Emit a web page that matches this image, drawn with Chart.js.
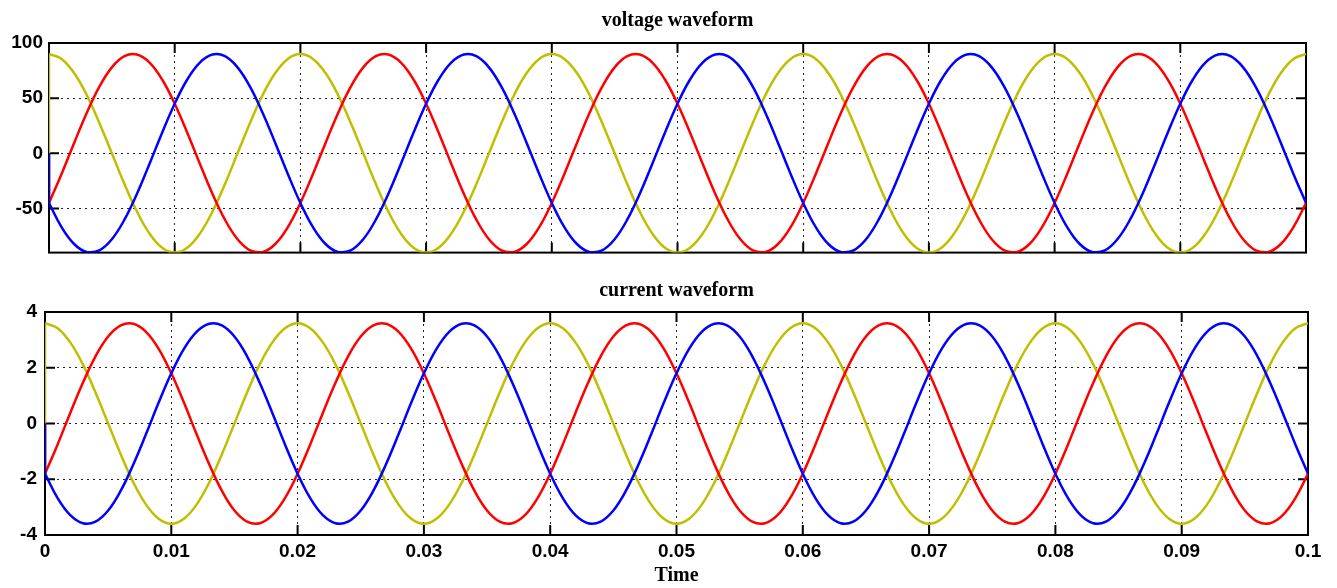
<!DOCTYPE html>
<html>
<head>
<meta charset="utf-8">
<script src="https://cdn.jsdelivr.net/npm/chart.js@4.4.1/dist/chart.umd.min.js"></script>
<style>
  body { margin: 0; background: #fff; }
  #voltChart { position: absolute; left: 0; top: 0; }
  #curChart { position: absolute; left: 0; top: 270px; }
</style>
</head>
<body>
<canvas id="voltChart" width="1337" height="270"></canvas>
<canvas id="curChart" width="1337" height="318"></canvas>
<script>
// time in seconds, the first point is the simulation start at 0
const time = [0,
  0, 0.001, 0.002, 0.003, 0.004, 0.005, 0.006, 0.007, 0.008, 0.009, 0.01, 0.011, 0.012, 0.013, 0.014, 0.015, 0.016, 0.017, 0.018, 0.019,
  0.02, 0.021, 0.022, 0.023, 0.024, 0.025, 0.026, 0.027, 0.028, 0.029, 0.03, 0.031, 0.032, 0.033, 0.034, 0.035, 0.036, 0.037, 0.038, 0.039,
  0.04, 0.041, 0.042, 0.043, 0.044, 0.045, 0.046, 0.047, 0.048, 0.049, 0.05, 0.051, 0.052, 0.053, 0.054, 0.055, 0.056, 0.057, 0.058, 0.059,
  0.06, 0.061, 0.062, 0.063, 0.064, 0.065, 0.066, 0.067, 0.068, 0.069, 0.07, 0.071, 0.072, 0.073, 0.074, 0.075, 0.076, 0.077, 0.078, 0.079,
  0.08, 0.081, 0.082, 0.083, 0.084, 0.085, 0.086, 0.087, 0.088, 0.089, 0.09, 0.091, 0.092, 0.093, 0.094, 0.095, 0.096, 0.097, 0.098, 0.099,
  0.1];

const voltYellow = [0,
  90, 85.6, 72.8, 52.9, 27.8, 0, -27.8, -52.9, -72.8, -85.6, -90, -85.6, -72.8, -52.9, -27.8, 0, 27.8, 52.9, 72.8, 85.6,
  90, 85.6, 72.8, 52.9, 27.8, 0, -27.8, -52.9, -72.8, -85.6, -90, -85.6, -72.8, -52.9, -27.8, 0, 27.8, 52.9, 72.8, 85.6,
  90, 85.6, 72.8, 52.9, 27.8, 0, -27.8, -52.9, -72.8, -85.6, -90, -85.6, -72.8, -52.9, -27.8, 0, 27.8, 52.9, 72.8, 85.6,
  90, 85.6, 72.8, 52.9, 27.8, 0, -27.8, -52.9, -72.8, -85.6, -90, -85.6, -72.8, -52.9, -27.8, 0, 27.8, 52.9, 72.8, 85.6,
  90, 85.6, 72.8, 52.9, 27.8, 0, -27.8, -52.9, -72.8, -85.6, -90, -85.6, -72.8, -52.9, -27.8, 0, 27.8, 52.9, 72.8, 85.6,
  90];
const voltRed = [0,
  -45, -18.7, 9.4, 36.6, 60.2, 77.9, 88, 89.5, 82.2, 66.9, 45, 18.7, -9.4, -36.6, -60.2, -77.9, -88, -89.5, -82.2, -66.9,
  -45, -18.7, 9.4, 36.6, 60.2, 77.9, 88, 89.5, 82.2, 66.9, 45, 18.7, -9.4, -36.6, -60.2, -77.9, -88, -89.5, -82.2, -66.9,
  -45, -18.7, 9.4, 36.6, 60.2, 77.9, 88, 89.5, 82.2, 66.9, 45, 18.7, -9.4, -36.6, -60.2, -77.9, -88, -89.5, -82.2, -66.9,
  -45, -18.7, 9.4, 36.6, 60.2, 77.9, 88, 89.5, 82.2, 66.9, 45, 18.7, -9.4, -36.6, -60.2, -77.9, -88, -89.5, -82.2, -66.9,
  -45, -18.7, 9.4, 36.6, 60.2, 77.9, 88, 89.5, 82.2, 66.9, 45, 18.7, -9.4, -36.6, -60.2, -77.9, -88, -89.5, -82.2, -66.9,
  -45];
const voltBlue = [0,
  -45, -66.9, -82.2, -89.5, -88, -77.9, -60.2, -36.6, -9.4, 18.7, 45, 66.9, 82.2, 89.5, 88, 77.9, 60.2, 36.6, 9.4, -18.7,
  -45, -66.9, -82.2, -89.5, -88, -77.9, -60.2, -36.6, -9.4, 18.7, 45, 66.9, 82.2, 89.5, 88, 77.9, 60.2, 36.6, 9.4, -18.7,
  -45, -66.9, -82.2, -89.5, -88, -77.9, -60.2, -36.6, -9.4, 18.7, 45, 66.9, 82.2, 89.5, 88, 77.9, 60.2, 36.6, 9.4, -18.7,
  -45, -66.9, -82.2, -89.5, -88, -77.9, -60.2, -36.6, -9.4, 18.7, 45, 66.9, 82.2, 89.5, 88, 77.9, 60.2, 36.6, 9.4, -18.7,
  -45, -66.9, -82.2, -89.5, -88, -77.9, -60.2, -36.6, -9.4, 18.7, 45, 66.9, 82.2, 89.5, 88, 77.9, 60.2, 36.6, 9.4, -18.7,
  -45];

const curYellow = [0,
  3.6, 3.42, 2.91, 2.12, 1.11, 0, -1.11, -2.12, -2.91, -3.42, -3.6, -3.42, -2.91, -2.12, -1.11, 0, 1.11, 2.12, 2.91, 3.42,
  3.6, 3.42, 2.91, 2.12, 1.11, 0, -1.11, -2.12, -2.91, -3.42, -3.6, -3.42, -2.91, -2.12, -1.11, 0, 1.11, 2.12, 2.91, 3.42,
  3.6, 3.42, 2.91, 2.12, 1.11, 0, -1.11, -2.12, -2.91, -3.42, -3.6, -3.42, -2.91, -2.12, -1.11, 0, 1.11, 2.12, 2.91, 3.42,
  3.6, 3.42, 2.91, 2.12, 1.11, 0, -1.11, -2.12, -2.91, -3.42, -3.6, -3.42, -2.91, -2.12, -1.11, 0, 1.11, 2.12, 2.91, 3.42,
  3.6, 3.42, 2.91, 2.12, 1.11, 0, -1.11, -2.12, -2.91, -3.42, -3.6, -3.42, -2.91, -2.12, -1.11, 0, 1.11, 2.12, 2.91, 3.42,
  3.6];
const curRed = [0,
  -1.8, -0.75, 0.38, 1.46, 2.41, 3.12, 3.52, 3.58, 3.29, 2.68, 1.8, 0.75, -0.38, -1.46, -2.41, -3.12, -3.52, -3.58, -3.29, -2.68,
  -1.8, -0.75, 0.38, 1.46, 2.41, 3.12, 3.52, 3.58, 3.29, 2.68, 1.8, 0.75, -0.38, -1.46, -2.41, -3.12, -3.52, -3.58, -3.29, -2.68,
  -1.8, -0.75, 0.38, 1.46, 2.41, 3.12, 3.52, 3.58, 3.29, 2.68, 1.8, 0.75, -0.38, -1.46, -2.41, -3.12, -3.52, -3.58, -3.29, -2.68,
  -1.8, -0.75, 0.38, 1.46, 2.41, 3.12, 3.52, 3.58, 3.29, 2.68, 1.8, 0.75, -0.38, -1.46, -2.41, -3.12, -3.52, -3.58, -3.29, -2.68,
  -1.8, -0.75, 0.38, 1.46, 2.41, 3.12, 3.52, 3.58, 3.29, 2.68, 1.8, 0.75, -0.38, -1.46, -2.41, -3.12, -3.52, -3.58, -3.29, -2.68,
  -1.8];
const curBlue = [0,
  -1.8, -2.68, -3.29, -3.58, -3.52, -3.12, -2.41, -1.46, -0.38, 0.75, 1.8, 2.68, 3.29, 3.58, 3.52, 3.12, 2.41, 1.46, 0.38, -0.75,
  -1.8, -2.68, -3.29, -3.58, -3.52, -3.12, -2.41, -1.46, -0.38, 0.75, 1.8, 2.68, 3.29, 3.58, 3.52, 3.12, 2.41, 1.46, 0.38, -0.75,
  -1.8, -2.68, -3.29, -3.58, -3.52, -3.12, -2.41, -1.46, -0.38, 0.75, 1.8, 2.68, 3.29, 3.58, 3.52, 3.12, 2.41, 1.46, 0.38, -0.75,
  -1.8, -2.68, -3.29, -3.58, -3.52, -3.12, -2.41, -1.46, -0.38, 0.75, 1.8, 2.68, 3.29, 3.58, 3.52, 3.12, 2.41, 1.46, 0.38, -0.75,
  -1.8, -2.68, -3.29, -3.58, -3.52, -3.12, -2.41, -1.46, -0.38, 0.75, 1.8, 2.68, 3.29, 3.58, 3.52, 3.12, 2.41, 1.46, 0.38, -0.75,
  -1.8];

const timeTickLabels = ["0", "0.01", "0.02", "0.03", "0.04", "0.05", "0.06", "0.07", "0.08", "0.09", "0.1"];
const voltTickLabels = ["100", "50", "0", "-50"];
const curTickLabels = ["4", "2", "0", "-2", "-4"];

const tickFont = { family: "Liberation Sans", size: 19, weight: "bold" };
const titleFont = { family: "Liberation Serif", size: 20, weight: "bold", lineHeight: 1.2 };

// box round the plot with short ticks pointing inwards, like the scope plot
const frameTicks = {
  id: "frameTicks",
  beforeDatasetsDraw(chart) {
    const { ctx, chartArea: a, scales } = chart;
    const len = 10;
    ctx.save();
    ctx.strokeStyle = "#000";
    ctx.lineWidth = 2;
    ctx.beginPath();
    scales.x.ticks.forEach((t) => {
      const px = scales.x.getPixelForValue(t.value);
      ctx.moveTo(px, a.bottom);
      ctx.lineTo(px, a.bottom - len);
      ctx.moveTo(px, a.top);
      ctx.lineTo(px, a.top + len);
    });
    scales.y.ticks.forEach((t) => {
      const py = scales.y.getPixelForValue(t.value);
      ctx.moveTo(a.left, py);
      ctx.lineTo(a.left + len, py);
      ctx.moveTo(a.right, py);
      ctx.lineTo(a.right - len, py);
    });
    ctx.stroke();
    ctx.strokeRect(a.left, a.top, a.right - a.left, a.bottom - a.top);
    ctx.restore();
  },
};

// the curve itself, smooth between the samples
function makeSeries(ys, color) {
  return {
    data: time.slice(1).map((t, i) => ({ x: t, y: ys[i + 1] })),
    borderColor: color,
    borderWidth: 2.5,
    pointRadius: 0,
    fill: false,
    tension: 0.4,
  };
}

// the jump from 0 at the very start of the run
function makeStart(ys, color) {
  return {
    data: [{ x: time[0], y: ys[0] }, { x: time[1], y: ys[1] }],
    borderColor: color,
    borderWidth: 2.5,
    pointRadius: 0,
    fill: false,
    tension: 0,
  };
}

function makeChart(canvasId, opts) {
  const ctx = document.getElementById(canvasId);
  return new Chart(ctx, {
    type: "line",
    data: {
      // first dataset ends up on top
      datasets: [
        makeSeries(opts.blue, "#0000FF"),
        makeStart(opts.blue, "#0000FF"),
        makeSeries(opts.red, "#FF0000"),
        makeStart(opts.red, "#FF0000"),
        makeSeries(opts.yellow, "#BFBF00"),
        makeStart(opts.yellow, "#BFBF00"),
      ],
    },
    options: {
      responsive: false,
      animation: false,
      events: [],
      layout: { padding: opts.padding },
      plugins: {
        legend: { display: false },
        tooltip: { enabled: false },
        title: {
          display: true,
          text: opts.title,
          fullSize: false,
          color: "#000",
          font: titleFont,
          padding: opts.titlePadding,
        },
      },
      scales: {
        x: {
          type: "linear",
          min: 0,
          max: 0.1,
          afterBuildTicks: (s) => {
            s.ticks = timeTickLabels.map((l) => ({ value: Number(l) }));
          },
          afterFit: (s) => {
            s.height = opts.xHeight;
          },
          grid: { color: "#222", lineWidth: 1, drawTicks: false },
          border: { display: false, dash: [2, 4] },
          ticks: {
            display: opts.showTime,
            color: "#000",
            font: tickFont,
            padding: 5,
            maxRotation: 0,
            callback: (v, i) => timeTickLabels[i],
          },
          title: {
            display: opts.showTime,
            text: "Time",
            color: "#000",
            font: titleFont,
            padding: 0,
          },
        },
        y: {
          min: opts.yMin,
          max: opts.yMax,
          afterBuildTicks: (s) => {
            s.ticks = opts.yLabels.map((l) => ({ value: Number(l) }));
          },
          afterFit: (s) => {
            s.width = opts.yWidth;
          },
          grid: { color: "#222", lineWidth: 1, drawTicks: false },
          border: { display: false, dash: [2, 4] },
          ticks: {
            color: "#000",
            font: tickFont,
            padding: opts.yPad,
            callback: (v, i) => opts.yLabels[i],
          },
        },
      },
    },
    plugins: [frameTicks],
  });
}

makeChart("voltChart", {
  title: "voltage waveform",
  yellow: voltYellow,
  red: voltRed,
  blue: voltBlue,
  yMin: -90,
  yMax: 100,
  yLabels: voltTickLabels,
  yWidth: 49,
  yPad: 6,
  xHeight: 0,
  showTime: false,
  padding: { left: 0, right: 31, top: 0, bottom: 4 },
  titlePadding: { top: 9, bottom: 10 },
});

makeChart("curChart", {
  title: "current waveform",
  yellow: curYellow,
  red: curRed,
  blue: curBlue,
  yMin: -4,
  yMax: 4,
  yLabels: curTickLabels,
  yWidth: 45,
  yPad: 8,
  xHeight: 53,
  showTime: true,
  padding: { left: 0, right: 29, top: 0, bottom: 0 },
  titlePadding: { top: 9, bottom: 9 },
});
</script>
</body>
</html>
